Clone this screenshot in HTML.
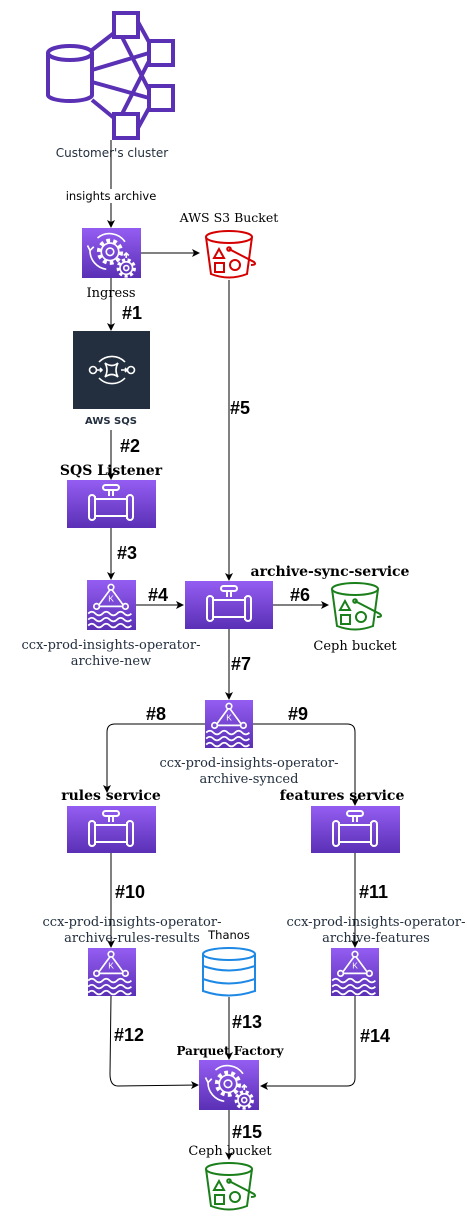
<!DOCTYPE html>
<html><head><meta charset="utf-8"><style>
html,body{margin:0;padding:0;background:#fff;}
svg{display:block;}
.s{font-family:"DejaVu Sans","Liberation Sans",sans-serif;}
.r{font-family:"DejaVu Serif","Liberation Serif",serif;}
.n{font-family:"Liberation Sans",sans-serif;font-weight:bold;font-size:18px;fill:#000;}
</style></head><body>
<svg width="467" height="1224" viewBox="0 0 467 1224" xmlns="http://www.w3.org/2000/svg">
<defs>
<linearGradient id="pg" x1="0" y1="0" x2="0" y2="1"><stop offset="0" stop-color="#945DF2"/><stop offset="1" stop-color="#5A30B5"/></linearGradient>
<marker id="a" markerWidth="8" markerHeight="8" refX="7" refY="4" orient="auto" markerUnits="userSpaceOnUse"><path d="M0,0 L8,4 L0,8 L2,4 Z" fill="#000"/></marker>
<g id="pipe" fill="none" stroke="#fff" stroke-width="2">
<rect x="-8" y="-18" width="16" height="5" rx="2.5"/>
<path d="M-2,-13 V-7 M2,-13 V-7"/>
<rect x="-22" y="-8" width="6" height="25" rx="3"/>
<rect x="16" y="-8" width="6" height="25" rx="3"/>
<path d="M-16,-4 H16 M-16,13 H16 M-16,-7 V16 M16,-7 V16"/>
</g>
<g id="kafka" fill="none" stroke="#fff" stroke-width="1.4">
<path d="M0,-13 L-11,2 L11,2 Z"/>
<circle cx="0" cy="-14" r="2.3" fill="#7B4BD6"/><circle cx="-12" cy="2" r="2.3" fill="#7B4BD6"/><circle cx="12" cy="2" r="2.3" fill="#7B4BD6"/>
<path d="M-19,8 q3,-3 6,0 t6,0 t6,0 t6,0 t6,0 t6,0 M-19,13 q3,-3 6,0 t6,0 t6,0 t6,0 t6,0 t6,0 M-19,18 q3,-3 6,0 t6,0 t6,0 t6,0 t6,0 t6,0"/>
<text x="0" y="-2" font-family="Liberation Sans,sans-serif" font-size="7" fill="#fff" stroke="none" text-anchor="middle">K</text>
</g>
<g id="gear" fill="none" stroke="#fff" stroke-width="1.3">
<path d="M-10,-12 A15,15 0 0 1 12,-9"/><path d="M-16,-2 A15,15 0 0 0 -3,13"/>
<path d="M-18,-6 l2,4 l3,-3"/>
<circle cx="0" cy="-1" r="7"/><circle cx="0" cy="-1" r="3"/>
<circle cx="0" cy="-1" r="9" stroke-dasharray="3 2.6" stroke-width="3"/>
<circle cx="13" cy="12" r="5"/><circle cx="13" cy="12" r="2"/>
<circle cx="13" cy="12" r="6.5" stroke-dasharray="2.5 2" stroke-width="2.5"/>
<path d="M13,0 V4 M11,2 l2,-2 l2,2"/>
</g>
<g id="bucket" fill="none" stroke-width="2">
<ellipse cx="0" cy="-18" rx="23" ry="6"/>
<path d="M-23,-18 L-18,19 Q0,26 18,19 L23,-18"/>
<path d="M-10,-6 L-15,3 L-5,3 Z"/>
<rect x="-14" y="8" width="9" height="9"/>
<circle cx="6" cy="10" r="5"/>
<path d="M0,-6 L25,7 Q28,10 22,10"/><circle cx="0" cy="-6" r="1.8"/>
</g>
</defs>

<g fill="none" stroke="#5A30B5" stroke-width="4">
<path d="M48,53 v42 a22,6 0 0 0 44,0 v-42"/>
<ellipse cx="70" cy="53" rx="22" ry="7"/>
<rect x="114" y="13" width="24" height="24"/>
<rect x="149" y="41" width="24" height="24"/>
<rect x="149" y="86" width="24" height="24"/>
<rect x="114" y="114" width="24" height="24"/>
<path d="M92,50 L114,33 M92,70 L149,53 M92,82 L149,98 M92,100 L114,118 M122,37 L149,90 M122,114 L149,61 M138,22 L149,42 M138,128 L149,108"/>
</g>
<text class="s" x="112" y="157" font-size="12" fill="#232F3E" text-anchor="middle">Customer's cluster</text>

<g stroke="#000" stroke-width="1" fill="none">
<path d="M111,140 V227" marker-end="url(#a)"/>
<path d="M141,253 H199" marker-end="url(#a)"/>
<path d="M111,278 V330" marker-end="url(#a)"/>
<path d="M111,430 V479" marker-end="url(#a)"/>
<path d="M111,528 V579" marker-end="url(#a)"/>
<path d="M136,605 H183" marker-end="url(#a)"/>
<path d="M229,280 V580" marker-end="url(#a)"/>
<path d="M273,605 H328" marker-end="url(#a)"/>
<path d="M229,629 V699" marker-end="url(#a)"/>
<path d="M205,724 H115 Q107,724 107,732 V792" marker-end="url(#a)"/>
<path d="M253,724 H347 Q355,724 355,732 V805" marker-end="url(#a)"/>
<path d="M111,853 V947" marker-end="url(#a)"/>
<path d="M355,853 V947" marker-end="url(#a)"/>
<path d="M111,996 L110,1074 Q110,1086 118,1086 L198,1085" marker-end="url(#a)"/>
<path d="M229,997 V1059" marker-end="url(#a)"/>
<path d="M355,996 V1078 Q355,1086 347,1086 H261" marker-end="url(#a)"/>
<path d="M229,1110 V1159" marker-end="url(#a)"/>
</g>

<rect x="66" y="189" width="90" height="14" fill="#fff"/>
<text class="s" x="111" y="200" font-size="11.5" fill="#000" text-anchor="middle">insights archive</text>

<rect x="82" y="228" width="59" height="50" fill="url(#pg)"/>
<use href="#gear" transform="translate(110,253) scale(1.25)"/>
<text class="r" x="111" y="297" font-size="13" fill="#000" text-anchor="middle">Ingress</text>

<text class="r" x="229" y="222" font-size="12.5" fill="#000" text-anchor="middle">AWS S3 Bucket</text>
<use href="#bucket" x="229" y="255" stroke="#D50000"/>

<text class="n" x="122" y="319">#1</text>
<rect x="73" y="331" width="77" height="78" fill="#232F3E"/>
<g fill="none" stroke="#fff" stroke-width="1.6">
<path d="M99,362 A18,18 0 0 1 125,362 M99,378 A18,18 0 0 0 125,378"/>
<circle cx="93" cy="370" r="3.5"/><circle cx="131" cy="370" r="3.5"/>
<path d="M97,370 H102 M100,368 l2,2 l-2,2 M121,370 H127 M125,368 l2,2 l-2,2"/>
<path d="M105,363 Q112,368 118,363 Q114,370 118,377 Q112,372 105,377 Q109,370 105,363 Z"/>
</g>
<text class="s" x="111" y="424" font-size="10" font-weight="bold" fill="#232F3E" text-anchor="middle">AWS SQS</text>

<text class="n" x="120" y="452">#2</text>
<text class="r" x="111" y="475" font-size="14" font-weight="bold" fill="#000" text-anchor="middle">SQS Listener</text>
<rect x="67" y="480" width="89" height="48" fill="url(#pg)"/>
<use href="#pipe" x="111" y="503"/>

<text class="n" x="117" y="559">#3</text>
<rect x="87" y="580" width="49" height="50" fill="url(#pg)"/>
<use href="#kafka" transform="translate(111,604) scale(1.2)"/>
<text class="r" x="111" y="649" font-size="13" fill="#232F3E" text-anchor="middle">ccx-prod-insights-operator-</text>
<text class="r" x="111" y="665" font-size="13" fill="#232F3E" text-anchor="middle">archive-new</text>

<text class="n" x="148" y="601">#4</text>
<text class="r" x="330" y="576" font-size="14" font-weight="bold" fill="#000" text-anchor="middle">archive-sync-service</text>
<rect x="185" y="581" width="88" height="48" fill="url(#pg)"/>
<use href="#pipe" x="229" y="604"/>
<text class="n" x="230" y="414">#5</text>
<text class="n" x="290" y="601">#6</text>
<use href="#bucket" x="355" y="607" stroke="#1B7F1B"/>
<text class="r" x="355" y="650" font-size="13" fill="#000" text-anchor="middle">Ceph bucket</text>

<text class="n" x="231" y="670">#7</text>
<rect x="205" y="700" width="48" height="48" fill="url(#pg)"/>
<use href="#kafka" transform="translate(229,723) scale(1.2)"/>
<text class="r" x="249" y="767" font-size="13" fill="#232F3E" text-anchor="middle">ccx-prod-insights-operator-</text>
<text class="r" x="249" y="783" font-size="13" fill="#232F3E" text-anchor="middle">archive-synced</text>
<text class="n" x="146" y="720">#8</text>
<text class="n" x="288" y="720">#9</text>

<text class="r" x="111" y="800" font-size="14" font-weight="bold" fill="#000" text-anchor="middle">rules service</text>
<rect x="67" y="806" width="89" height="47" fill="url(#pg)"/>
<use href="#pipe" x="111" y="829"/>
<text class="r" x="342" y="800" font-size="14" font-weight="bold" fill="#000" text-anchor="middle">features service</text>
<rect x="311" y="806" width="89" height="47" fill="url(#pg)"/>
<use href="#pipe" x="355" y="829"/>

<text class="n" x="115" y="898">#10</text>
<text class="n" x="359" y="898">#11</text>
<text class="r" x="132" y="926" font-size="13" fill="#232F3E" text-anchor="middle">ccx-prod-insights-operator-</text>
<text class="r" x="132" y="942" font-size="13" fill="#232F3E" text-anchor="middle">archive-rules-results</text>
<text class="r" x="376" y="926" font-size="13" fill="#232F3E" text-anchor="middle">ccx-prod-insights-operator-</text>
<text class="r" x="376" y="942" font-size="13" fill="#232F3E" text-anchor="middle">archive-features</text>
<rect x="88" y="948" width="48" height="48" fill="url(#pg)"/>
<use href="#kafka" transform="translate(111,971) scale(1.2)"/>
<rect x="331" y="948" width="48" height="48" fill="url(#pg)"/>
<use href="#kafka" transform="translate(355,971) scale(1.2)"/>

<text class="s" x="229" y="939" font-size="11.5" fill="#000" text-anchor="middle">Thanos</text>
<g fill="none" stroke="#1E88E5" stroke-width="2">
<ellipse cx="229" cy="954" rx="26" ry="6"/>
<path d="M203,954 V991 Q229,1000 255,991 V954 M203,966 Q229,975 255,966 M203,979 Q229,988 255,979"/>
</g>

<text class="n" x="114" y="1041">#12</text>
<text class="n" x="232" y="1028">#13</text>
<text class="n" x="360" y="1042">#14</text>
<text class="r" x="230" y="1055" font-size="12" font-weight="bold" fill="#000" text-anchor="middle">Parquet Factory</text>
<rect x="199" y="1060" width="60" height="50" fill="url(#pg)"/>
<use href="#gear" transform="translate(228,1085) scale(1.25)"/>

<text class="n" x="232" y="1138">#15</text>
<text class="r" x="230" y="1155" font-size="13" fill="#000" text-anchor="middle">Ceph bucket</text>
<use href="#bucket" x="229" y="1187" stroke="#1B7F1B"/>
</svg>
</body></html>
